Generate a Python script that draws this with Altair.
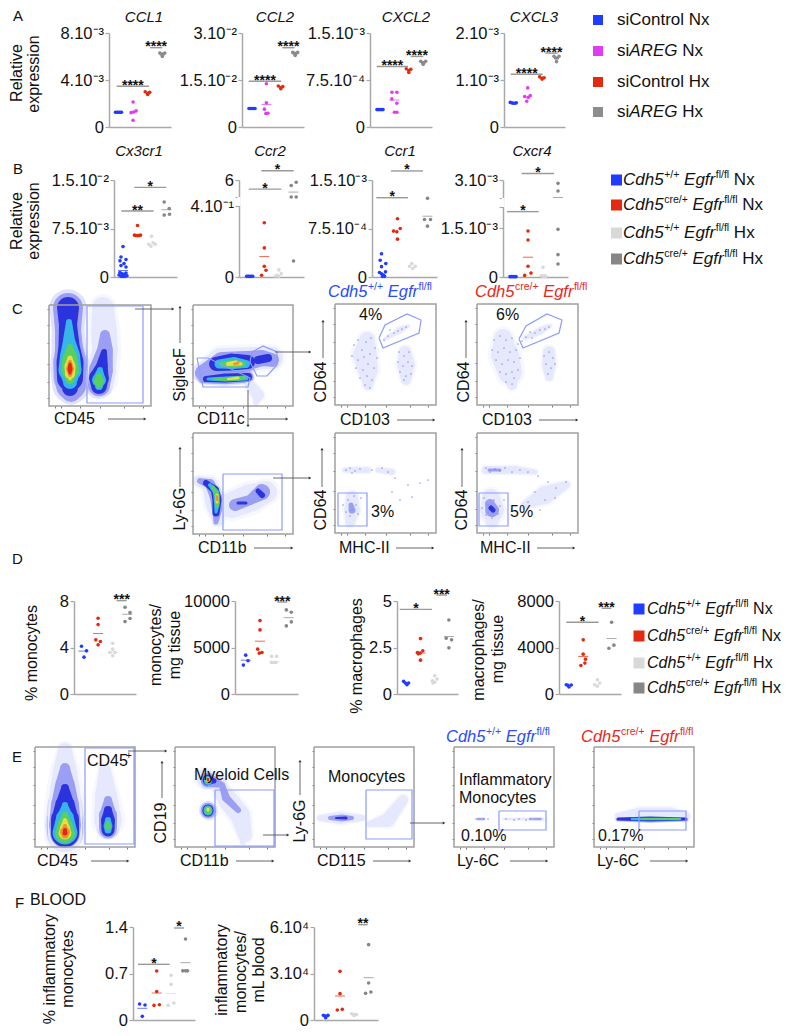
import math
import altair as alt
import pandas as pd

FONT = "Liberation Sans"
AXC = "#a8a8a8"
BLUE, MAG, RED, GREY = "#1f3cff", "#e23cf2", "#e22a10", "#8c8c8c"
LGREY = "#d9d9d9"
DGREY = "#868686"
COLS_A = [BLUE, MAG, RED, GREY]
COLS_B = [BLUE, RED, LGREY, DGREY]
W, H = 775, 1020
ORG = 8

# ---------- dot panels: (dx px, value) per group ----------
CCL1 = [([-3, -1.5, 0, 1.5, 3], [1.25e-3] * 5),
        ([0, -2, 0.5, 3, 0], [2.13e-3, 1.22e-3, 1.28e-3, 1.37e-3, 0.57e-3]),
        ([-2.5, 0, 2, 0], [3.0e-3, 2.87e-3, 2.95e-3, 2.77e-3]),
        ([-2.5, 2.5, 0, -1, 1], [6.3e-3, 6.3e-3, 6.0e-3, 6.2e-3, 6.2e-3])]
CCL2 = [([-3, -1.5, 0, 1.5, 3], [5.9e-3] * 5),
        ([0, 0, -2, -0.5, 1.5], [1.38e-2, 7.7e-3, 5.7e-3, 4.3e-3, 4.4e-3]),
        ([-2.5, 0, 2, 0], [1.31e-2, 1.25e-2, 1.29e-2, 1.22e-2]),
        ([-2.5, 2.5, 0, -1, 1], [2.38e-2, 2.38e-2, 2.28e-2, 2.35e-2, 2.35e-2])]
CXCL2 = [([-3, -1.5, 0, 1.5, 3], [2.78e-4] * 5),
         ([-2.5, 2.5, -2.5, 2.5, 0, 2.5], [5.55e-4, 5.55e-4, 4.48e-4, 3.79e-4, 2.35e-4, 2.35e-4]),
         ([-2.5, 0, 2, 0], [9.3e-4, 9.0e-4, 9.2e-4, 8.7e-4]),
         ([-2.5, 2.5, 0, -1, 1], [1.05e-3, 1.05e-3, 1.0e-3, 1.03e-3, 1.03e-3])]
CXCL3 = [([-3, -1.5, 0, 1.5, 3], [5.5e-4, 5.4e-4, 5.3e-4, 5.3e-4, 5.4e-4]),
         ([0, -3, 0.5, 2.5, -1], [8.74e-4, 6.8e-4, 6.58e-4, 7.0e-4, 5.75e-4]),
         ([-2.5, 0, 2, 0], [1.12e-3, 1.09e-3, 1.1e-3, 1.07e-3]),
         ([-2.5, 2.5, 0, -1, 1], [1.58e-3, 1.58e-3, 1.46e-3, 1.54e-3, 1.54e-3])]
CX3CR1 = [([0, -2, 3, -3, 1, 3, -2, -3, -1, 1, 3, 4, -4, 0, 2, -2],
           [4.7e-3, 3.1e-3, 2.7e-3, 2.5e-3, 2.07e-3, 1.55e-3, 1.76e-3, 7e-4, 5e-4, 4e-4, 6e-4, 2e-4, 3e-4, 1e-4, 1e-4, 1e-4]),
          ([0, -3, -1.5, 0, 1.5, 3], [7.97e-3, 6.47e-3, 6.4e-3, 6.4e-3, 6.4e-3, 6.47e-3]),
          ([-0.5, 1, -1, 3.3, -3.3], [6.3e-3, 5.3e-3, 4.75e-3, 5.07e-3, 5.07e-3]),
          ([-2.3, 2.7, -2.3, 3], [1.16e-2, 1.06e-2, 9.57e-3, 9.7e-3])]
CCR2 = [([-3, -1.5, 0, 1.5, 3], [0.004] * 5),
        ([0, 0, 0, 1.7, -2.7], [0.306, 0.164, 0.06, 0.038, 0.01]),
        ([0, -2, 2.3, 0, -3.3], [0.04, 0.01, 0.019, 0.004, 0.006]),
        ([2.7, -2.3, -2.3, 2.7, 0], [5.33, 4.37, 1.0, 1.0, 0.09])]
CCR1 = [([-1, -2.3, 3.3, -1, -3, -1, 1, 3, 0, 2],
         [3.6e-4, 2.6e-4, 2.07e-4, 1.6e-4, 7e-5, 5e-5, 3e-5, 8e-5, 1e-5, 1e-5]),
        ([0, -4, -0.7, 2.7, 0], [9e-4, 7.1e-4, 6.98e-4, 7.5e-4, 5.85e-4]),
        ([-0.7, 2.7, -3, 0.3], [2.07e-4, 1.65e-4, 1.65e-4, 1.3e-4]),
        ([0, -3, 3, 0], [1.216e-3, 8.9e-4, 8.9e-4, 7.86e-4])]
CXCR4 = [([-3, -1.5, 0, 1.5, 3], [1e-5] * 5),
         ([0, 0, 0, 3, -3.3], [1.42e-3, 1.14e-3, 3.3e-4, 1.2e-4, 5e-5]),
         ([0, -1.7, 1.7, 0, 2.7], [3e-4, 4e-5, 4e-5, 2e-5, 2e-5]),
         ([0, 0, 0, 0, 0], [2.87e-3, 2.57e-3, 1.47e-3, 6.9e-4, 4e-4])]
PCT_MONO = [([-2, 3, 0.5], [4.11, 3.71, 3.17]),
            ([0, 0, -2.3, 2.3, 0], [6.51, 5.97, 4.66, 4.51, 4.23]),
            ([0, 0, -2.7, 2.3, 0], [4.37, 3.86, 3.57, 3.57, 3.29]),
            ([-2.3, 2.7, 2.7, -2.3], [7.46, 7.0, 6.49, 6.23])]
N_MONO = [([0, 2.3, -2.3], [4180, 3570, 3110]),
          ([0, 0, -2.3, 2, -0.7], [7890, 6890, 4820, 4460, 4390]),
          ([-2.7, 2.3, -1, 1.7, -2.7], [4040, 4040, 3390, 3390, 3390]),
          ([-2.3, 2.7, 2.7, -2.3], [9040, 8790, 7750, 7320])]
PCT_MAC = [([-2.7, 0.7, 2.3, -1], [0.68, 0.5, 0.59, 0.59]),
           ([0, -3, 2.3, -0.3, -2.3, 0], [2.98, 2.23, 2.32, 2.2, 2.16, 1.82]),
           ([0, 2.3, -2.3, 0, -1.7], [0.98, 0.8, 0.71, 0.63, 0.59]),
           ([0, -2.7, 2.7, 0], [3.98, 3.0, 2.91, 2.48])]
N_MAC = [([-2.7, 2.3, 0, -1], [800, 770, 600, 740]),
         ([0, 0, 2.3, -2.3, 1.7], [4657, 3430, 3000, 2457, 2657]),
         ([0, 2.3, -2.7, 0], [1230, 940, 800, 657]),
         ([0, -2.7, 2.3], [6170, 3940, 4200])]
PCT_INF = [([-2.7, 2.7, 0], [0.24, 0.226, 0.055]),
           ([0, 0, -2.7, 2.7], [0.738, 0.43, 0.22, 0.23]),
           ([0, 0, 2.7, -3], [0.672, 0.537, 0.256, 0.22]),
           ([0, -2.7, 0, 2], [1.22, 0.74, 0.74, 0.74])]
N_INF = [([-2.3, 2.3, 0, 0], [3010, 3010, 1500, 2580]),
         ([0, 0, -2.7, 2.3], [31400, 17000, 6450, 6880]),
         ([-2.7, 2.3, -0.3, 0], [4000, 3500, 2900, 3500]),
         ([0, 0, -3, 2.3], [48600, 23870, 17200, 18060])]

PANELS = [
 dict(x0=109, x1=171, top=33, zero=127, dom=[0, 8e-3], g0=9.5, step=14.6, pts=CCL1, cols=COLS_A,
      ticks=[0, 4e-3, 8e-3], labs=["0", "4.10⁻³", "8.10⁻³"], means=[None] * 4,
      bars=[(7.7, 40, 3.47e-3, "****"), (41, 53.3, 6.75e-3, "****")]),
 dict(x0=242, x1=304, top=33, zero=127, dom=[0, 3e-2], g0=10, step=14.4, pts=CCL2, cols=COLS_A,
      ticks=[0, 1.5e-2, 3e-2], labs=["0", "1.5.10⁻²", "3.10⁻²"], means=[None, 7.15e-3, None, None],
      bars=[(6.7, 39.3, 1.46e-2, "****"), (40.3, 52.7, 2.53e-2, "****")]),
 dict(x0=370, x1=432, top=33, zero=127, dom=[0, 1.5e-3], g0=10, step=14.4, pts=CXCL2, cols=COLS_A,
      ticks=[0, 7.5e-4, 1.5e-3], labs=["0", "7.5.10⁻⁴", "1.5.10⁻³"], means=[None, 4.3e-4, None, None],
      bars=[(6.7, 38, 9.66e-4, "****"), (40.7, 53.3, 1.126e-3, "****")]),
 dict(x0=504, x1=565, top=33, zero=127, dom=[0, 2.1e-3], g0=9.3, step=14.4, pts=CXCL3, cols=COLS_A,
      ticks=[0, 1.05e-3, 2.1e-3], labs=["0", "1.10⁻³", "2.10⁻³"], means=[None] * 4,
      bars=[(6.7, 38.7, 1.18e-3, "****"), (41.3, 53.7, 1.65e-3, "****")]),
 dict(x0=114, x1=177, top=180, zero=277, dom=[0, 1.5e-2], g0=9, step=14.5, pts=CX3CR1, cols=COLS_B,
      ticks=[0, 7.5e-3, 1.5e-2], labs=["0", "7.5.10⁻³", "1.5.10⁻²"], means=[1.0e-3, None, None, 1.04e-2],
      bars=[(7.3, 39.7, 1.02e-2, "**"), (20.3, 52.3, 1.386e-2, "*")]),
 dict(x0=239, x1=304, top=180, zero=277, dom=[0, 0.4, 1, 6], rng=[277, 206, 197, 180],
      g0=10.7, step=14.6, pts=CCR2, cols=COLS_B,
      ticks=[0, 0.4, 1, 6], labs=["0", "4.10⁻¹", "", "6"], means=[None, 0.115, None, 2.44], brk=(0.4, 1),
      bars=[(9.7, 42.3, 3.31, "*"), (22.3, 54.7, 8.7, "*")]),
 dict(x0=372, x1=437, top=180, zero=277, dom=[0, 1.5e-3], g0=10.5, step=15, pts=CCR1, cols=COLS_B,
      ticks=[0, 7.5e-4, 1.5e-3], labs=["0", "7.5.10⁻⁴", "1.5.10⁻³"], means=[None, None, None, 9.4e-4],
      bars=[(4.3, 36, 1.226e-3, "*"), (19, 51, 1.64e-3, "*")]),
 dict(x0=503, x1=568, top=180, zero=277, dom=[0, 2.16e-3, 2.3e-3, 3e-3], rng=[277, 207, 198, 180],
      g0=10, step=15, pts=CXCR4, cols=COLS_B,
      ticks=[0, 1.5e-3, 2.16e-3, 2.3e-3, 3e-3], labs=["0", "1.5.10⁻³", "", "", "3.10⁻³"],
      means=[None, 6.1e-4, None, 2.32e-3], brk=(2.16e-3, 2.3e-3),
      bars=[(4, 35.7, 2.017e-3, "*"), (18.7, 51, 3.25e-3, "*")]),
 dict(x0=74, x1=136, top=601, zero=694, dom=[0, 8], g0=9.5, step=14.6, pts=PCT_MONO, cols=COLS_B,
      ticks=[0, 4, 8], labs=["0", "4", "8"], means=[3.69, 5.2, 3.6, 6.86],
      bars=[(42.7, 52.7, 8.03, "***")]),
 dict(x0=235, x1=298, top=601, zero=694, dom=[0, 10000], g0=10.7, step=14.3, pts=N_MONO, cols=COLS_B,
      ticks=[0, 5000, 10000], labs=["0", "5000", "10000"], means=[3640, 5680, 3500, 8210],
      bars=[(42.3, 52.3, 9890, "***")]),
 dict(x0=397, x1=458, top=601, zero=694, dom=[0, 5], g0=9.3, step=14.2, pts=PCT_MAC, cols=COLS_B,
      ticks=[0, 2.5, 5], labs=["0", "2.5", "5"], means=[None, 2.2, None, 3.09],
      bars=[(2.7, 35, 4.55, "*"), (39.3, 50, 5.32, "***")]),
 dict(x0=559, x1=621, top=601, zero=694, dom=[0, 8000], g0=10, step=14.2, pts=N_MAC, cols=COLS_B,
      ticks=[0, 4000, 8000], labs=["0", "4000", "8000"], means=[None, 3230, None, 4770],
      bars=[(7.3, 39.7, 6170, "*"), (42.7, 52.3, 7370, "***")]),
 dict(x0=133, x1=195, top=927, zero=1020, dom=[0, 1.4], g0=9.3, step=14.4, pts=PCT_INF, cols=COLS_B,
      ticks=[0, 0.7, 1.4], labs=["0", "0.7", "1.4"], means=[0.176, 0.406, 0.4, 0.863],
      bars=[(5, 36.7, 0.838, "*"), (41, 51, 1.385, "*")]),
 dict(x0=314, x1=378, top=927, zero=1020, dom=[0, 60000], g0=11.7, step=14.3, pts=N_INF, cols=COLS_B,
      ticks=[0, 30000, 60000], labs=["0", "3.10⁴", "6.10⁴"], means=[None, 15480, None, 27300],
      bars=[(44.3, 53.7, 61500, "**")]),
]

# ---------- flow cytometry panels: density contours as (level, [(x, y, width), ...]) ----------
LEVELS = ["#e6e8fd", "#9a9ff3", "#2b33dd", "#35b5e8", "#58d060", "#e8e040", "#f09030", "#e02818"]

S_CD45_C = [(0,[(103,308,22),(104,330,26),(105,350,26),(100,378,30)]),
            (1,[(68,308,30),(68,330,26),(69,350,28),(70,368,32),(71,385,30),(71,392,20)]),
            (1,[(105,335,10),(105,350,16),(101,370,24),(99,385,22)]),
            (2,[(68,308,22),(68,325,18),(69,345,21),(70,362,27),(70,378,26),(70,388,16)]),
            (2,[(104,352,6),(102,366,12),(99,378,20),(99,386,16)]),
            (3,[(69,322,6),(69,340,12),(70,355,20),(70,370,23),(70,382,14)]),
            (3,[(100,370,6),(99,380,14),(99,386,8)]),
            (4,[(70,347,6),(70,358,15),(70,370,18),(70,380,8)]),
            (4,[(99,376,6),(99,381,10),(99,385,6)]),
            (5,[(70,358,5),(70,366,11),(70,374,10),(70,379,3)]),
            (6,[(70,362,4),(70,369,8),(70,375,4)]),
            (7,[(70,364,3),(70,369,5),(70,373,3)])]
S_SIGLEC = [(0,[(200,372,14),(220,358,20),(250,358,22),(272,358,22)]),
            (0,[(250,385,10),(258,395,12),(256,402,6)]),
            (1,[(203,373,16),(222,362,20),(245,361,20),(262,358,16),(272,360,14)]),
            (1,[(203,379,8),(225,378,12),(248,377,10)]),
            (2,[(216,364,14),(232,362,17),(248,362,14)]),
            (2,[(206,379,6),(225,378,9),(248,377,8)]),
            (2,[(258,360,8),(268,358,8)]),
            (3,[(219,364,9),(234,363,12),(246,364,8)]),
            (3,[(208,379,3),(225,379,5),(246,378,5)]),
            (4,[(222,364,5),(234,364,8),(243,364,5)]),
            (4,[(214,379,2),(228,379,4),(244,378,4)]),
            (5,[(228,364,4),(236,363,5),(241,364,3)]),
            (5,[(228,379,2),(238,378,3)]),
            (6,[(234,364,2),(238,363,3)])]
S_LY6G = [(0,[(198,481,10),(210,485,16),(216,505,20),(218,520,12)]),
          (0,[(232,505,26),(250,498,28),(266,492,22)]),
          (1,[(200,481,6),(210,484,10),(216,497,12),(217,510,10),(216,522,5)]),
          (1,[(235,505,12),(250,500,10),(262,492,16)]),
          (2,[(206,483,6),(215,490,8),(217,500,9),(216,513,7)]),
          (2,[(258,491,5),(262,495,6)]),
          (2,[(238,503,3),(246,503,3)]),
          (3,[(210,485,4),(216,492,6),(217,503,6),(216,512,3)]),
          (4,[(213,487,3),(217,495,5),(217,506,4)]),
          (5,[(217,495,3),(217,502,3)]),
          (6,[(217,496,2),(217,500,2.5)])]
S_CD103A = [(0,[(367,340,16),(365,355,24),(368,370,20),(368,385,10)]),
            (0,[(405,352,12),(406,365,18),(406,380,10)]),
            (0,[(385,339,3),(400,330,6),(408,326,3)])]
S_CD103B = [(0,[(503,338,18),(505,355,28),(510,372,24),(512,385,10)]),
            (0,[(549,352,12),(549,365,14),(549,377,8)]),
            (0,[(525,338,4),(540,331,7),(550,326,4)])]
S_MHCA = [(0,[(345,470,5),(368,470,6)]),(0,[(378,470,5),(392,472,6)]),
          (0,[(352,497,12),(352,510,16),(350,522,10)]),(1,[(351,505,5),(352,510,7)])]
S_MHCB = [(0,[(525,505,8),(545,495,18),(566,485,8)]),(0,[(486,470,8),(515,470,8),(535,472,5)]),
          (0,[(491,498,18),(492,510,24),(492,520,14)]),(1,[(490,504,10),(492,510,14)]),
          (2,[(491,508,5),(493,510,5)]),(1,[(489,470,3),(500,470,3)])]
S_CD45_E = [(0,[(65,750,14),(65,770,24),(65,790,30),(65,810,34),(65,835,34)]),
            (0,[(105,770,12),(106,795,22),(108,820,28)]),
            (1,[(65,768,10),(65,785,20),(65,805,28),(65,825,32),(65,833,30)]),
            (1,[(108,800,8),(108,815,18),(108,828,18)]),
            (2,[(65,788,8),(65,805,20),(65,820,28),(65,833,28)]),
            (2,[(108,810,8),(108,820,14),(108,830,13)]),
            (3,[(65,805,6),(65,818,18),(65,832,25)]),
            (3,[(108,820,6),(108,826,9),(108,830,7)]),
            (4,[(65,815,6),(65,825,15),(65,833,20)]),
            (4,[(108,823,4),(108,827,6)]),
            (5,[(65,820,4),(65,828,10),(65,833,13)]),
            (6,[(65,826,4),(65,832,10),(65,835,7)]),
            (7,[(65,830,4),(65,833,5)])]
S_CD11B_E = [(0,[(218,785,14),(228,800,20),(240,815,20),(245,835,14),(243,842,6)]),
             (0,[(205,778,18),(220,782,12)]),
             (1,[(208,780,15),(222,785,6),(226,798,8),(238,810,6)]),
             (1,[(208,810,14),(209,811,14)]),
             (2,[(208,780,11),(214,781,5)]),(2,[(208,810,11),(208,811,11)]),
             (3,[(208,780,8),(208,781,8)]),(3,[(208,810,9),(208,811,9)]),
             (4,[(208,780,6),(208,781,6)]),(4,[(208,810,7),(208,811,7)]),
             (5,[(208,779,4),(208,780,4)]),(5,[(208,809,3),(208,810,3)]),
             (7,[(208,779,2.5),(208,780,2.5)])]
S_CD115 = [(0,[(370,824,6),(388,820,14),(403,800,10)]),
           (0,[(320,818,6),(340,818,12),(362,818,6)]),
           (1,[(330,818,4),(342,818,7),(352,818,4)]),
           (2,[(336,818,2),(346,818,3)])]
S_LY6C_A = [(1,[(478,819,2),(484,819,1.5)]),(0,[(504,819,2),(543,819,3)]),(1,[(530,819,1.5),(540,819,2)])]
S_LY6C_B = [(0,[(618,816,6),(640,814,13),(670,814,13),(686,816,8)]),
            (2,[(618,819,3),(650,819,5),(686,819,3)]),
            (3,[(632,819,2.5),(680,819,2.5)]),
            (4,[(642,819,1.8),(678,819,1.8)])]

D_CD103A = [(354,345),(358,340),(362,350),(366,342),(371,338),(375,348),(352,356),(358,360),(364,357),(370,354),(377,358),(356,368),(363,370),(368,364),(374,368),(360,378),(367,376),(372,380),(365,385),(370,388),
            (399,352),(404,356),(409,352),(398,362),(403,366),(408,362),(412,366),(400,372),(406,376),(411,374),(404,380),(390,330),(394,333),(398,331),(402,329),(406,327),(388,336),(384,340)]
D_CD103B = [(494,340),(500,336),(506,340),(512,338),(518,344),(492,350),(498,352),(504,348),(510,352),(516,350),(496,360),(502,364),(508,360),(514,362),(520,358),(500,372),(506,374),(512,372),(518,370),(506,382),(512,384),(514,378),
            (544,356),(549,352),(553,358),(546,364),(551,368),(548,374),(555,364),(530,332),(535,333),(540,330),(545,329),(549,327),(526,337),(532,338),(522,341)]
D_MHCA = [(346,470),(350,468),(355,471),(360,469),(352,473),(372,470),(382,468),(388,472),(395,478),(408,485),(420,483),(400,500),(392,492),(412,497),(343,505),(348,500),(352,510),(356,505),(350,516),(358,514),(346,512),(361,498),(354,496),(428,480)]
D_MHCB = [(486,468),(490,472),(495,469),(500,471),(505,468),(512,472),(520,470),(528,472),(538,476),(548,482),(556,488),(566,482),(535,492),(545,500),(555,498),(528,502),(540,510),(484,498),(488,505),(494,500),(500,506),(486,515),(492,518),(498,514),(504,500),(482,508)]
D_LY6C_A = [(476,819),(484,819),(488,819),(506,819),(514,820),(519,819),(526,820),(530,819),(541,819)]
D_NONE = []

def box(x0, y0, x1, y1):
    return [(x0, y0), (x1, y0), (x1, y1), (x0, y1), (x0, y0)]

FLOWS = [
 dict(x0=49, x1=151, top=305, bot=406, s=S_CD45_C, d=D_NONE, g=[box(87, 306, 143, 403)]),
 dict(x0=193, x1=293, top=305, bot=406, s=S_SIGLEC, d=D_NONE,
      g=[[(197,358),(208,358),(250,378),(248,387),(203,387),(197,358)],
         [(252,352),(263,346),(277,352),(277,365),(267,376),(257,376),(250,362),(252,352)]]),
 dict(x0=335, x1=436, top=304, bot=405, s=S_CD103A, d=D_CD103A,
      g=[[(379,338),(385,325),(407,314),(421,320),(419,333),(383,348),(379,338)]]),
 dict(x0=477, x1=578, top=304, bot=405, s=S_CD103B, d=D_CD103B,
      g=[[(519,339),(526,326),(547,314),(562,320),(559,333),(523,348),(519,339)]]),
 dict(x0=193, x1=293, top=433, bot=534, s=S_LY6G, d=D_NONE, g=[box(223, 474, 282, 530)]),
 dict(x0=335, x1=436, top=433, bot=533, s=S_MHCA, d=D_MHCA, g=[box(338, 493, 367, 526)]),
 dict(x0=477, x1=578, top=433, bot=533, s=S_MHCB, d=D_MHCB, g=[box(479, 493, 508, 526)]),
 dict(x0=35, x1=135, top=747, bot=847, s=S_CD45_E, d=D_NONE, g=[box(85, 748, 134, 844)]),
 dict(x0=175, x1=275, top=747, bot=847, s=S_CD11B_E, d=D_NONE, g=[box(215, 790, 274, 846)]),
 dict(x0=314, x1=414, top=747, bot=847, s=S_CD115, d=D_NONE, g=[box(366, 790, 412, 839)]),
 dict(x0=454, x1=554, top=747, bot=847, s=S_LY6C_A, d=D_LY6C_A, g=[box(499, 811, 546, 830)]),
 dict(x0=594, x1=694, top=747, bot=847, s=S_LY6C_B, d=D_NONE, g=[box(639, 811, 686, 830)]),
]

# ---------- text and annotation ----------
WIDTHS = {" ": .278, "/": .278, "+": .584, "f": .278, "l": .222, "i": .222, "r": .333, "t": .278, "C": .722, "N": .722,
          "A": .667, "R": .722, "E": .667, "G": .778, "H": .722, "x": .5, "s": .5, "c": .5, "e": .556}
def tw(s, size):
    return sum(WIDTHS.get(ch, .556) for ch in s) * size

TEXTS = []
def T(x, y, s, size=16, color="#111111", style="normal", align="left", angle=0):
    TEXTS.append(dict(px=x, py=y, text=s, size=size, color=color, style=style, align=align, angle=angle))
def R(x, y, s, size=16):
    T(x, y, s, size=size, align="center", angle=270)
def SEG(x, y, segs, size=17, color="#111111", sup=10.5):
    for s, kind in segs:
        if kind == "sp":
            x += tw(" ", size)
        elif kind == "s":
            T(x + .5, y - 5.5, s, size=sup, color=color)
            x += tw(s, sup) + .5
        else:
            T(x, y, s, size=size, color=color, style="italic" if kind == "i" else "normal")
            x += tw(s, size)
def geno(a, tail=""):
    segs = [("Cdh5", "i"), (a, "s"), (" ", "sp"), ("Egfr", "i"), ("fl/fl", "s")]
    return segs + ([(" ", "sp"), (tail, "n")] if tail else [])

for letter, x, y in [("A", 13, 16), ("B", 13, 169), ("C", 12, 309), ("D", 12, 559), ("E", 12, 757), ("F", 15, 903)]:
    T(x, y, letter, size=15)
T(30, 900, "BLOOD", size=16)
for s, x, y in [("CCL1", 144, 17), ("CCL2", 275, 17), ("CXCL2", 406, 17), ("CXCL3", 534, 17),
                ("Cx3cr1", 139, 151), ("Ccr2", 270, 151), ("Ccr1", 400, 151), ("Cxcr4", 532, 151)]:
    T(x, y, s, size=15, style="italic", align="center")
for s, x, y in [("Relative", 17, 73), ("expression", 34, 74), ("Relative", 17, 221), ("expression", 34, 221),
                ("% monocytes", 32, 653), ("monocytes/", 156, 645), ("mg tissue", 175, 645),
                ("% macrophages", 357, 656), ("macrophages/", 479, 650), ("mg tissue", 498, 649),
                ("% inflammatory", 50, 969), ("monocytes", 68, 969),
                ("inflammatory", 222, 970), ("monocytes/", 241, 972), ("mL blood", 259, 970),
                ("SiglecF", 180, 375), ("Ly-6G", 180, 509), ("CD64", 321, 382), ("CD64", 464, 382),
                ("CD64", 321, 510), ("CD64", 462, 510), ("CD19", 161, 823), ("Ly-6G", 300, 821)]:
    R(x, y, s)
for s, x, y in [("CD45", 54, 419), ("CD11c", 197, 419), ("CD11b", 198, 548), ("CD103", 340, 420), ("CD103", 482, 420),
                ("MHC-II", 339, 548), ("MHC-II", 480, 548), ("CD45", 37, 861), ("CD11b", 180, 861), ("CD115", 317, 861),
                ("Ly-6C", 457, 861), ("Ly-6C", 597, 861), ("Myeloid Cells", 194, 775), ("Monocytes", 328, 777),
                ("Inflammatory", 459, 780), ("Monocytes", 459, 798), ("0.10%", 461, 836), ("0.17%", 598, 836),
                ("4%", 359, 315), ("6%", 496, 315), ("3%", 371, 512), ("5%", 510, 512)]:
    T(x, y, s)
SEG(87, 761, [("CD45", "n"), ("+", "s")], size=16)
SEG(328, 292, geno("+/+"), size=16.5, color="#2a4cff")
SEG(475, 292, geno("cre/+"), size=16.5, color="#e8281a")
SEG(446, 737, geno("+/+"), size=16.5, color="#2a4cff")
SEG(581, 737, geno("cre/+"), size=16.5, color="#e8281a")

SQUARES = []
for (s, c), y in zip([("siControl Nx", BLUE), (None, MAG), ("siControl Hx", RED), (None, GREY)], [20, 51, 82, 112]):
    SQUARES.append(dict(px=598, py=y, col=c, side=10))
    if s:
        T(617, y, s, size=17)
    else:
        SEG(617, y, [("si", "n"), ("AREG", "i"), (" ", "sp"), ("Nx" if c == MAG else "Hx", "n")])
LEG = [("+/+", "Nx", BLUE), ("cre/+", "Nx", RED), ("+/+", "Hx", LGREY), ("cre/+", "Hx", DGREY)]
for x_sq, x_t, ys, fs in [(616.5, 623, [180, 205, 233, 259], 17), (639, 647, [609, 636, 663, 688], 16)]:
    for (a, tail, c), y in zip(LEG, ys):
        SQUARES.append(dict(px=x_sq, py=y, col=c, side=11))
        SEG(x_t, y, geno(a, tail), size=fs)

ARROWS = [(108,419,145,419),(249,419,287,419),(180,343,180,307),(254,548,292,548),(180,487,180,448),
          (397,420,434,420),(539,420,577,420),(323,358,323,321),(466,358,466,321),
          (396,548,433,548),(537,548,574,548),(322,487,322,449),(462,487,462,449),
          (135,309,173,309),(275,352,310,352),(273,478,310,478),(248,390,248,426),
          (91,861,128,861),(236,861,273,861),(373,861,410,861),(510,861,547,861),(650,861,687,861),
          (162,798,162,762),(300,795,300,761),(128,751,166,751),(263,835,288,835),(410,823,444,823)]

# ---------- builders ----------
def label_expr(ticks, labs):
    s = "''"
    for t, l in zip(ticks, labs):
        s = f"datum.value=={t}?'{l}':" + s
    return s

def dot_panel(p):
    w = p["x1"] - p["x0"]
    rng = [r - ORG for r in (p.get("rng") or [p["zero"], p["top"]])]
    ys = alt.Scale(domain=p["dom"], range=rng, zero=False, nice=False)
    xs = alt.Scale(domain=[0, w], range=[p["x0"] - ORG, p["x1"] - ORG], nice=False, zero=False)
    xax = alt.Axis(orient="bottom", offset=-(H - (p["zero"] - ORG)), labels=False, ticks=False, title=None, grid=False,
                   domainColor=AXC, domainWidth=1.5)
    yax = alt.Axis(orient="left", offset=-(p["x0"] - ORG), values=p["ticks"],
                   labelExpr=label_expr(p["ticks"], p["labs"]), title=None, grid=False,
                   domainColor=AXC, domainWidth=1.5, tickColor=AXC, tickSize=4, tickWidth=1.2,
                   labelFont=FONT, labelFontSize=16.5, labelColor="#111111", labelPadding=1.5,
                   labelOverlap=False, labelFlush=False, labelBound=False)
    X = lambda f: alt.X(f, type="quantitative", scale=xs, axis=xax)
    Y = lambda f: alt.Y(f, type="quantitative", scale=ys, axis=yax)
    rows = []
    for g, (dxs, vs) in enumerate(p["pts"]):
        for dx, v in zip(dxs, vs):
            rows.append(dict(x=p["g0"] + g * p["step"] + dx, y=v, col=p["cols"][g]))
    layers = [alt.Chart(pd.DataFrame(rows)).mark_circle(size=13, opacity=1).encode(
        x=X("x"), y=Y("y"), color=alt.Color("col:N", scale=None))]
    mrows = [dict(x=p["g0"] + g * p["step"] - 5, x2=p["g0"] + g * p["step"] + 5, y=m, col=p["cols"][g])
             for g, m in enumerate(p["means"]) if m is not None]
    if mrows:
        layers.append(alt.Chart(pd.DataFrame(mrows)).mark_rule(strokeWidth=1, opacity=.7).encode(
            x=X("x"), x2="x2", y=Y("y"), color=alt.Color("col:N", scale=None)))
    bdf = pd.DataFrame([dict(x=a, x2=b, y=v, mid=(a + b) / 2, s=s) for a, b, v, s in p["bars"]])
    layers.append(alt.Chart(bdf).mark_rule(strokeWidth=1.4, color="#9a9a9a").encode(x=X("x"), x2="x2", y=Y("y")))
    layers.append(alt.Chart(bdf).mark_text(font=FONT, fontSize=14, fontWeight="bold", color="#111111",
                                           baseline="alphabetic", dy=3.5).encode(x=X("mid"), y=Y("y"), text="s:N"))
    if "brk" in p:
        layers.append(alt.Chart(pd.DataFrame({"x": [0], "y": [p["brk"][0]], "y2": [p["brk"][1]]}))
                      .mark_rule(color="white", strokeWidth=3).encode(x=X("x"), y=Y("y"), y2="y2"))
    return alt.layer(*layers)

def flow_panel(p):
    w, h = p["x1"] - p["x0"], p["bot"] - p["top"]
    xs = alt.Scale(domain=[p["x0"], p["x1"]], range=[p["x0"] - ORG, p["x1"] - ORG], nice=False, zero=False)
    ys = alt.Scale(domain=[p["bot"], p["top"]], range=[p["bot"] - ORG, p["top"] - ORG], nice=False, zero=False)
    xt = [p["x0"] + w * f for f in (.06, .12, .3, .5, .74, .92)]
    yt = [p["bot"] - h * f for f in (.08, .24, .42, .62, .8, .96)]
    common = dict(labels=False, title=None, grid=False, domain=False, tickSize=2, tickColor="#777777", tickWidth=1)
    xax = alt.Axis(orient="bottom", offset=-(H - (p["bot"] - ORG)), values=xt, **common)
    yax = alt.Axis(orient="left", offset=-(p["x0"] - ORG), values=yt, **common)
    X = lambda f: alt.X(f, type="quantitative", scale=xs, axis=xax)
    Y = lambda f: alt.Y(f, type="quantitative", scale=ys, axis=yax)
    rows = []
    for sid, (lvl, anchors) in enumerate(p["s"]):
        for i, (x, y, d) in enumerate(anchors):
            rows.append(dict(id=f"{sid:02d}", i=i, x=x, y=y, d=d, soft=d * 1.2 + 1.5, col=LEVELS[lvl]))
    s = pd.DataFrame(rows)
    layers = [alt.Chart(s).mark_trail(opacity=.3).encode(
                  x=X("x"), y=Y("y"), order="i:Q", detail="id:N", size=alt.Size("soft:Q", scale=None),
                  color=alt.Color("col:N", scale=None)),
              alt.Chart(s).mark_trail(opacity=1).encode(
                  x=X("x"), y=Y("y"), order="i:Q", detail="id:N", size=alt.Size("d:Q", scale=None),
                  color=alt.Color("col:N", scale=None))]
    if p["d"]:
        d = pd.DataFrame(p["d"], columns=["x", "y"])
        layers.append(alt.Chart(d).mark_circle(size=3, opacity=.75, color="#7c80e8").encode(x=X("x"), y=Y("y")))
    frame = pd.DataFrame([dict(x=x, y=y, i=i) for i, (x, y) in enumerate(box(p["x0"], p["top"], p["x1"], p["bot"]))])
    layers.append(alt.Chart(frame).mark_line(color="#a0a0a0", strokeWidth=1.5).encode(x=X("x"), y=Y("y"), order="i:Q"))
    for gate in p["g"]:
        g = pd.DataFrame([dict(x=x, y=y, i=i) for i, (x, y) in enumerate(gate)])
        layers.append(alt.Chart(g).mark_line(color="#8b9bff", strokeWidth=1.2).encode(
            x=X("x"), y=Y("y"), order="i:Q"))
    return alt.layer(*layers)

def annotation():
    PX = lambda f: alt.X(f, type="quantitative", scale=None, axis=None)
    PY = lambda f: alt.Y(f, type="quantitative", scale=None, axis=None)
    layers = []
    sq = pd.DataFrame(SQUARES)
    sq["px"] -= ORG; sq["py"] -= ORG; sq["area"] = sq["side"] ** 2
    layers.append(alt.Chart(sq).mark_square(opacity=1).encode(
        x=PX("px"), y=PY("py"), color=alt.Color("col:N", scale=None), size=alt.Size("area:Q", scale=None)))
    ar = pd.DataFrame(ARROWS, columns=["x1", "y1", "x2", "y2"]) - ORG
    layers.append(alt.Chart(ar).mark_rule(color="#555555", strokeWidth=.9).encode(
        x=PX("x1"), x2="x2", y=PY("y1"), y2="y2"))
    horiz = ar[ar.y1 == ar.y2]; up = ar[(ar.x1 == ar.x2) & (ar.y2 < ar.y1)]; dn = ar[(ar.x1 == ar.x2) & (ar.y2 > ar.y1)]
    for df, shape in [(horiz, "triangle-right"), (up, "triangle-up"), (dn, "triangle-down")]:
        layers.append(alt.Chart(df).mark_point(shape=shape, filled=True, size=9, color="#333333", opacity=1).encode(
            x=PX("x2"), y=PY("y2")))
    t = pd.DataFrame(TEXTS)
    t["px"] -= ORG; t["py"] -= ORG
    for (style, align), df in t.groupby(["style", "align"]):
        layers.append(alt.Chart(df).mark_text(font=FONT, fontStyle=style, align=align, baseline="middle").encode(
            x=PX("px"), y=PY("py"), text="text:N", color=alt.Color("color:N", scale=None),
            size=alt.Size("size:Q", scale=None), angle=alt.Angle("angle:Q", scale=None)))
    return alt.layer(*layers)

parts = [flow_panel(p) for p in FLOWS] + [dot_panel(p) for p in PANELS] + [annotation()]
chart = alt.layer(*parts).resolve_scale(x="independent", y="independent").resolve_axis(
    x="independent", y="independent").properties(
    width=W, height=H, padding=0, autosize=alt.AutoSizeParams(type="none")).configure_view(stroke=None)
chart.save("out.html", embed_options={"renderer": "svg", "actions": False})
